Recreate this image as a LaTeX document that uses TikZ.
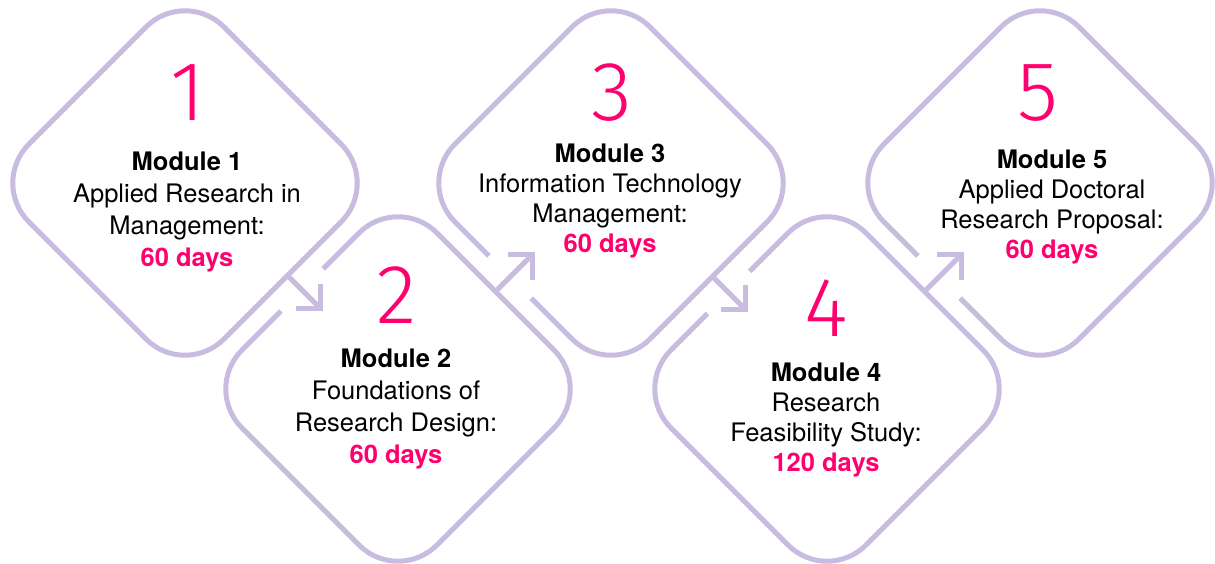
\documentclass[tikz,border=0pt]{standalone}
\usepackage{fontspec}
\setmainfont{TeX Gyre Heros}
\IfFontExistsTF{Fira Sans Light}{\newfontfamily\digitfont{Fira Sans Light}}{%
  \IfFontExistsTF{Open Sans Light}{\newfontfamily\digitfont{Open Sans Light}}{%
    \IfFontExistsTF{Lato Light}{\newfontfamily\digitfont{Lato Light}}{%
      \newfontfamily\digitfont{TeX Gyre Heros}}}}
\usetikzlibrary{shapes.geometric,calc}
\definecolor{lav}{RGB}{200,188,224}
\definecolor{hot}{RGB}{255,0,110}
\begin{document}
\begin{tikzpicture}[x=1pt,y=-1pt,
  dia/.style={diamond, draw=lav, line width=5pt, minimum width=390pt, minimum height=390pt,
    inner sep=0pt, outer sep=0pt, aspect=1, rounded corners=55pt},
  digit/.style={anchor=base, text=hot, font=\digitfont\fontsize{84}{84}\selectfont, inner sep=0pt},
  txtA/.style={align=center, inner sep=0pt, font=\fontsize{25.5}{32}\selectfont},
  txtB/.style={align=center, inner sep=0pt, font=\fontsize{25.5}{30}\selectfont},
  gapline/.style={draw=white, line width=10pt},
  conn/.style={draw=lav, line width=5pt}]
\useasboundingbox (0,0) rectangle (1215,564);
\fill[white] (0,0) rectangle (1215,564);

\node[dia] (d1) at (185,183) {};
\node[dia] (d2) at (398,389) {};
\node[dia] (d3) at (611,183) {};
\node[dia] (d4) at (827,389) {};
\node[dia] (d5) at (1040,183) {};

% arrow 1: d1 -> d2 (down-right)
\coordinate (s1) at ($(d1.east)!0.5!(d1.south)+(5,-5)$);
\coordinate (e1) at ($(s1)+(33,33)$);
\coordinate (g1) at ($(s1)+(16,16)$);
\draw[gapline] ($(g1)+(-21,21)$) -- ($(g1)+(21,-21)$);
\draw[conn] (s1) -- (e1);
\draw[conn] ($(e1)+(0,-25)$) -- (e1) -- ($(e1)+(-25,0)$);

% arrow 2: d2 -> d3 (up-right)
\coordinate (s2) at ($(d2.north)!0.5!(d2.east)$);
\coordinate (e2) at ($(s2)+(37,-37)$);
\coordinate (g2) at ($(s2)+(16,-16)$);
\draw[gapline] ($(g2)+(-21,-21)$) -- ($(g2)+(21,21)$);
\draw[conn] (s2) -- (e2);
\draw[conn] ($(e2)+(0,25)$) -- (e2) -- ($(e2)+(-25,0)$);

% arrow 3: d3 -> d4 (down-right)
\coordinate (s3) at ($(d3.east)!0.5!(d3.south)+(4,-4)$);
\coordinate (e3) at ($(s3)+(33,33)$);
\coordinate (g3) at ($(s3)+(16,16)$);
\draw[gapline] ($(g3)+(-21,21)$) -- ($(g3)+(21,-21)$);
\draw[conn] (s3) -- (e3);
\draw[conn] ($(e3)+(0,-25)$) -- (e3) -- ($(e3)+(-25,0)$);

% arrow 4: d4 -> d5 (up-right)
\coordinate (s4) at ($(d4.north)!0.5!(d4.east)$);
\coordinate (e4) at ($(s4)+(37,-37)$);
\coordinate (g4) at ($(s4)+(16,-16)$);
\draw[gapline] ($(g4)+(-21,-21)$) -- ($(g4)+(21,21)$);
\draw[conn] (s4) -- (e4);
\draw[conn] ($(e4)+(0,25)$) -- (e4) -- ($(e4)+(-25,0)$);

% digits
\node[digit] (n1) at ($(d1)+(3,-62)$) {1};
\node[digit] (n2) at ($(d2)+(-1,-66)$) {2};
\node[digit] (n3) at ($(d3)+(1,-62)$) {3};
\node[digit] (n4) at ($(d4)+(-1,-53)$) {4};
\node[digit] (n5) at ($(d5)+(-2,-62)$) {5};

% texts
\node[txtA] (t1) at ($(d1)+(2,29)$) {\textbf{Module 1}\\Applied Research in\\Management:\\\textcolor{hot}{\textbf{60 days}}};
\node[txtA] (t2) at ($(d2)+(-2,20)$) {\textbf{Module 2}\\Foundations of\\Research Design:\\\textcolor{hot}{\textbf{60 days}}};
\node[txtB] (t3) at ($(d3)+(-1,18)$) {\textbf{Module 3}\\Information Technology\\Management:\\\textcolor{hot}{\textbf{60 days}}};
\node[txtB] (t4) at ($(d4)+(-1,31)$) {\textbf{Module 4}\\Research\\Feasibility Study:\\\textcolor{hot}{\textbf{120 days}}};
\node[txtB] (t5) at ($(d5)+(12,24)$) {\textbf{Module 5}\\Applied Doctoral\\Research Proposal:\\\textcolor{hot}{\textbf{60 days}}};
\end{tikzpicture}
\end{document}
